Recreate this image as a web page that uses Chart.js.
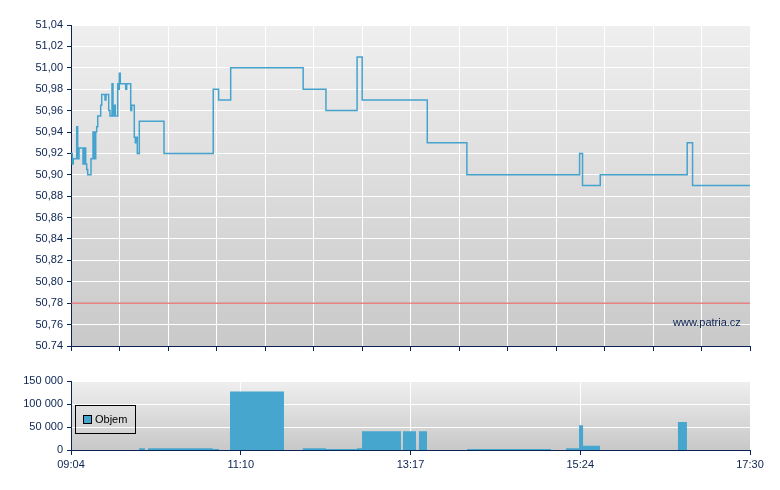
<!DOCTYPE html>
<html lang="cs">
<head>
    <meta charset="UTF-8">
    <title>Kurz a objem</title>
    <script src="https://cdn.jsdelivr.net/npm/chart.js"></script>
    <style>
        body { margin: 0; background: #fff; font-family: "Liberation Sans", Arial, sans-serif; }
        .wrap { position: relative; width: 780px; height: 490px; }
        #priceChart { position: absolute; left: 0; top: 0; }
        #volumeChart { position: absolute; left: 0; top: 360px; }
        .watermark { position: absolute; left: 673px; top: 316px; font-size: 11px; color: #0b2352; }
        .legend { position: absolute; left: 75px; top: 405px; width: 59px; height: 27px; border: 1px solid #000; font-size: 11px; color: #000; }
        .legend .swatch { position: absolute; left: 7px; top: 9px; width: 7px; height: 7px; border: 1px solid #000; background: #46a6ce; }
        .legend .label { position: absolute; left: 19px; top: 7px; }
    </style>
</head>
<body>
<div class="wrap">
    <canvas id="priceChart" width="780" height="360"></canvas>
    <canvas id="volumeChart" width="780" height="130"></canvas>
    <div class="watermark">www.patria.cz</div>
    <div class="legend"><span class="swatch"></span><span class="label">Objem</span></div>
</div>

<script>
    // minutes since 09:04, session ends 17:30
    const SESSION_MIN = 506;
    const timeLabels = ['09:04', '11:10', '13:17', '15:24', '17:30'];

    // price changes (value holds until the next time)
    const priceTimes = [0, 0.97, 1.71, 4.25, 4.99, 5.96, 8.94, 9.91, 10.95, 11.7, 12.44, 14.9, 16.39, 17.36, 18.41, 19.15,
        19.9, 22.13, 22.88, 25.34, 26.08, 28.09, 29.06, 30.55, 31.3, 32.04, 33.01, 34.8, 35.25, 35.99, 36.74, 40.76,
        41.51, 44.49, 45.23, 47.17, 47.92, 48.66, 49.41, 50.9, 69.3, 106, 110, 119, 173, 190, 213.2, 217, 265.5, 295,
        379, 381.2, 394.4, 459.2, 463.2, 506];
    const priceValues = [50.92, 50.91, 50.915, 50.945, 50.915, 50.925, 50.91, 50.925, 50.91, 50.905, 50.90, 50.915, 50.94, 50.915, 50.94, 50.945,
        50.955, 50.965, 50.975, 50.97, 50.975, 50.96, 50.955, 50.985, 50.955, 50.965, 50.955, 50.985, 50.98, 50.995, 50.985, 50.98,
        50.985, 50.96, 50.965, 50.935, 50.93, 50.935, 50.92, 50.95, 50.92, 50.98, 50.97, 51.00, 50.98, 50.96, 51.01, 50.97, 50.93, 50.90,
        50.92, 50.89, 50.90, 50.93, 50.89, 50.89];
    const prevClose = 50.78;

    // volume blocks
    const volStart = [50.7, 57.4, 105.6, 118.5, 172.7, 190.0, 213.1, 216.9, 247.4, 259.3, 295.1, 368.9, 378.6, 381.6, 452.3];
    const volEnd = [55.1, 105.6, 110.3, 158.7, 190.0, 213.1, 216.9, 245.9, 257.1, 265.3, 357.7, 378.6, 381.6, 394.2, 459.0];
    const volValues = [4000, 4000, 2000, 127000, 4000, 2000, 4000, 41000, 41000, 41000, 2000, 4000, 54000, 9000, 61000];

    const NAVY = '#0b2352';
    const FONT = { family: '"Liberation Sans", Arial, sans-serif', size: 11 };

    const areaBg = {
        id: 'areaBg',
        beforeDraw(chart, args, opts) {
            const { ctx, chartArea: a } = chart;
            const g = ctx.createLinearGradient(0, a.top, 0, a.bottom);
            g.addColorStop(0, opts.from);
            g.addColorStop(1, opts.to);
            ctx.save();
            ctx.fillStyle = g;
            ctx.fillRect(a.left, a.top, a.right - a.left, a.bottom - a.top);
            ctx.restore();
        }
    };

    new Chart(document.getElementById('priceChart'), {
        type: 'line',
        data: {
            datasets: [{
                data: priceTimes.map((t, i) => ({ x: t, y: priceValues[i] })),
                stepped: 'before',
                borderColor: '#46a3cd',
                borderWidth: 1.5,
                pointRadius: 0
            }, {
                data: [{ x: 0, y: prevClose }, { x: SESSION_MIN, y: prevClose }],
                borderColor: '#e24a4c',
                borderWidth: 1,
                pointRadius: 0
            }]
        },
        options: {
            responsive: false,
            animation: false,
            layout: { padding: { top: 25, right: 30, left: 0, bottom: 0 } },
            plugins: {
                legend: { display: false },
                tooltip: { enabled: false },
                areaBg: { from: '#efefef', to: '#c9c9c9' }
            },
            scales: {
                x: {
                    type: 'linear', min: 0, max: SESSION_MIN,
                    afterBuildTicks: ax => { ax.ticks = Array.from({ length: 15 }, (_, i) => ({ value: i * SESSION_MIN / 14 })); },
                    afterFit: ax => { ax.height = 14; },
                    ticks: { display: false },
                    grid: { color: '#fff', tickColor: NAVY, tickLength: 5 },
                    border: { color: NAVY }
                },
                y: {
                    min: 50.74, max: 51.04,
                    afterFit: ax => { ax.width = 71; },
                    ticks: {
                        stepSize: 0.02, color: NAVY, font: FONT, padding: 4,
                        callback: v => Math.abs(v - 50.74) < 1e-6 ? '50.74' : v.toFixed(2).replace('.', ',')
                    },
                    grid: { color: '#fff', tickColor: NAVY, tickLength: 4 },
                    border: { color: NAVY }
                }
            }
        },
        plugins: [areaBg]
    });

    // stepped filled area, one block per volume interval
    const volPoints = [];
    volStart.forEach((s, i) => {
        volPoints.push({ x: s, y: 0 });
        volPoints.push({ x: volEnd[i], y: volValues[i] });
    });

    new Chart(document.getElementById('volumeChart'), {
        type: 'line',
        data: {
            datasets: [{
                label: 'Objem',
                data: volPoints,
                stepped: 'after',
                fill: 'origin',
                backgroundColor: '#46a6ce',
                borderColor: 'transparent',
                borderWidth: 0,
                pointRadius: 0
            }]
        },
        options: {
            responsive: false,
            animation: false,
            layout: { padding: { top: 21, right: 30, left: 0, bottom: 0 } },
            plugins: {
                legend: { display: false },
                tooltip: { enabled: false },
                areaBg: { from: '#efefef', to: '#c8c8c8' }
            },
            scales: {
                x: {
                    type: 'linear', min: 0, max: SESSION_MIN,
                    afterBuildTicks: ax => { ax.ticks = timeLabels.map((_, i) => ({ value: i * SESSION_MIN / (timeLabels.length - 1) })); },
                    afterFit: ax => { ax.height = 40; },
                    ticks: { color: NAVY, font: FONT, padding: 3, maxRotation: 0, callback: (v, i) => timeLabels[i] },
                    grid: { color: '#fff', tickColor: NAVY, tickLength: 5 },
                    border: { color: NAVY }
                },
                y: {
                    min: 0, max: 150000,
                    afterFit: ax => { ax.width = 71; },
                    ticks: {
                        stepSize: 50000, color: NAVY, font: FONT, padding: 4,
                        callback: v => String(v).replace(/\B(?=(\d{3})+(?!\d))/g, ' ')
                    },
                    grid: { color: '#fff', tickColor: NAVY, tickLength: 4 },
                    border: { color: NAVY }
                }
            }
        },
        plugins: [areaBg]
    });
</script>
</body>
</html>
